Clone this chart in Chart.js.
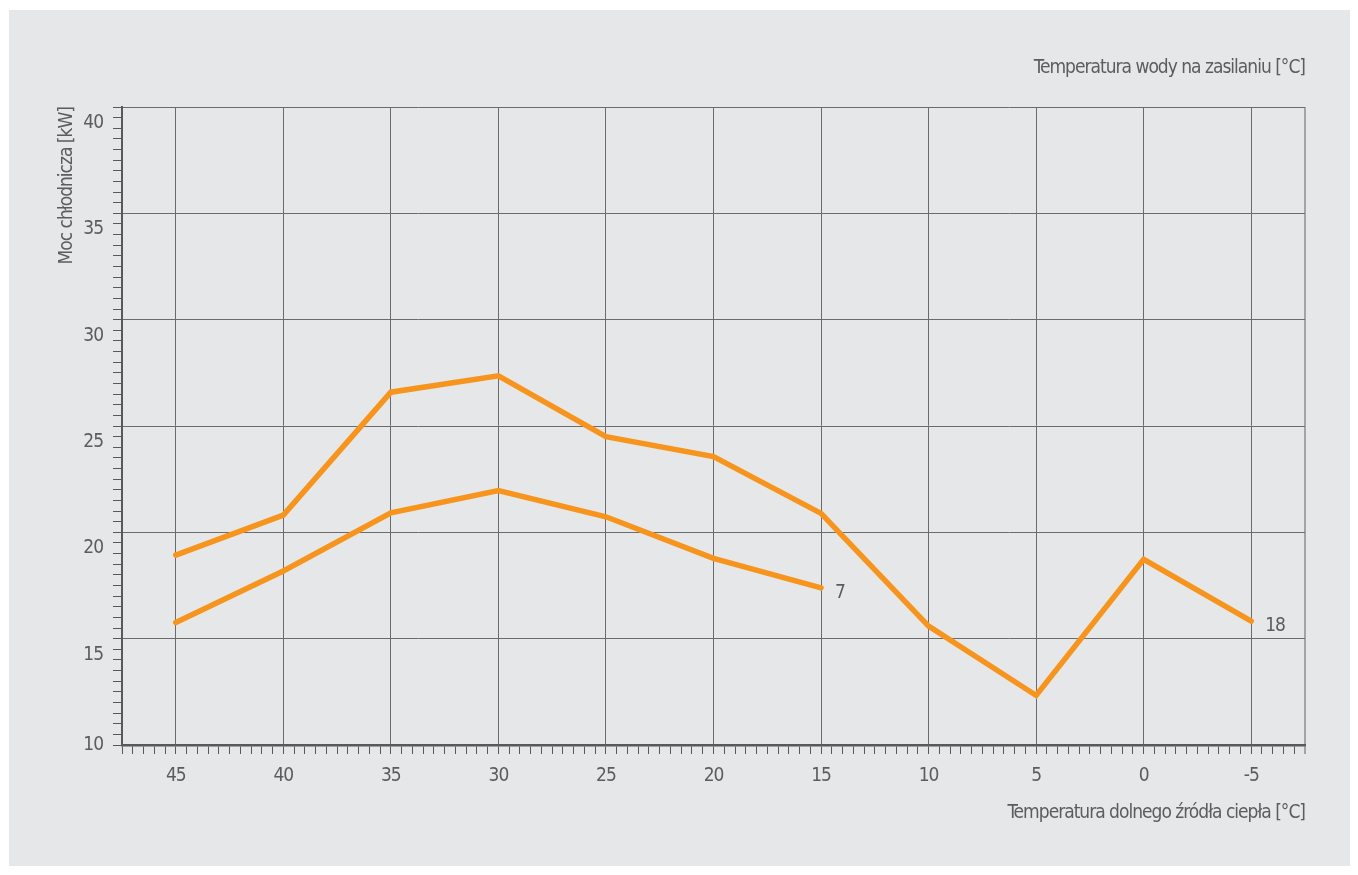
<!DOCTYPE html>
<html lang="pl">
<head>
<meta charset="utf-8">
<title>Moc chłodnicza</title>
<script src="https://cdn.jsdelivr.net/npm/chart.js@4.4.1/dist/chart.umd.min.js"></script>
<style>
  html, body { margin: 0; padding: 0; background: #ffffff; }
  #panel { position: absolute; left: 9px; top: 10px; width: 1341px; height: 856px; background: #e6e7e8; }
  canvas { display: block; }
</style>
</head>
<body>
<div id="panel"><canvas id="chart" width="1341" height="856"></canvas></div>
<script>
// Temperatura dolnego źródła ciepła [°C]
const sourceTemps = [45, 40, 35, 30, 25, 20, 15, 10, 5, 0, -5];
// Moc chłodnicza [kW] przy temperaturze zasilania 18 °C i 7 °C
const power18 = [18.93, 20.81, 26.59, 27.36, 24.5, 23.56, 20.89, 15.59, 12.33, 18.73, 15.83];
const power7 = [15.76, 18.18, 20.92, 21.96, 20.73, 18.78, 17.39];
const seriesNames = ['18', '7'];
// labelled values on both axes
const yTickLabels = [10, 15, 20, 25, 30, 35, 40];
const xTickLabels = [45, 40, 35, 30, 25, 20, 15, 10, 5, 0, -5];

const FONT = '"DejaVu Sans Condensed", "Liberation Sans Narrow", "Arial Narrow", sans-serif';
const FONT_SIZE = 19;
const TEXT = '#5b5c5e';
const GRID = '#6a6b6d';
const AXIS = '#58595b';
const EDGE = '#a3a4a6';
const ORANGE = '#f7941d';

Chart.defaults.font.family = FONT;
Chart.defaults.font.size = FONT_SIZE;
Chart.defaults.color = TEXT;

const toPoints = (vals) => vals.map((v, i) => ({ x: sourceTemps[i], y: v }));

// tighter letter spacing for all canvas text
const tightText = {
  id: 'tightText',
  beforeUpdate(chart) { chart.ctx.letterSpacing = '-1px'; },
  beforeDraw(chart) { chart.ctx.letterSpacing = '-1px'; }
};

// supply-temperature label next to the last point of each curve
const endLabels = {
  id: 'endLabels',
  afterDatasetsDraw(chart) {
    const ctx = chart.ctx;
    ctx.save();
    ctx.font = FONT_SIZE + 'px ' + FONT;
    ctx.fillStyle = TEXT;
    ctx.textAlign = 'left';
    ctx.textBaseline = 'middle';
    chart.data.datasets.forEach((ds, i) => {
      const pts = chart.getDatasetMeta(i).data;
      const last = pts[pts.length - 1];
      ctx.fillText(ds.label, last.x + 14, last.y + 5.5);
    });
    ctx.restore();
  }
};

const isMajor = (v) => Math.abs(v % 5) < 1e-9;

new Chart(document.getElementById('chart'), {
  type: 'line',
  data: {
    datasets: [
      { label: seriesNames[0], data: toPoints(power18) },
      { label: seriesNames[1], data: toPoints(power7) }
    ].map(ds => Object.assign(ds, {
      borderColor: ORANGE,
      borderWidth: 5.5,
      borderCapStyle: 'round',
      borderJoinStyle: 'miter',
      pointRadius: 0,
      tension: 0,
      fill: false
    }))
  },
  options: {
    responsive: false,
    animation: false,
    devicePixelRatio: 1,
    layout: { padding: { left: 0, right: 45, top: 0, bottom: 0 } },
    plugins: {
      legend: { display: false },
      tooltip: { enabled: false },
      title: {
        display: true,
        text: 'Temperatura wody na zasilaniu [°C]',
        align: 'end',
        color: TEXT,
        font: { size: FONT_SIZE, weight: 'normal', lineHeight: '24px' },
        padding: { top: 46, bottom: 27 }
      },
      subtitle: {
        display: true,
        position: 'bottom',
        text: 'Temperatura dolnego źródła ciepła [°C]',
        align: 'end',
        color: TEXT,
        font: { size: FONT_SIZE, weight: 'normal', lineHeight: '24px' },
        padding: { top: 0, bottom: 41 }
      }
    },
    scales: {
      x: {
        type: 'linear',
        min: -7.5,
        max: 47.5,
        reverse: true,
        afterFit(s) { s.height = 56; },
        border: { display: true, color: AXIS, width: 2.5 },
        grid: {
          color: (c) => {
            if (!c.tick) return 'transparent';
            if (c.tick.value === -7.5) return EDGE;
            return isMajor(c.tick.value) ? GRID : 'transparent';
          },
          lineWidth: (c) => (c.tick && c.tick.value === -7.5) ? 2 : 1,
          tickColor: (c) => (c.tick && c.tick.value === -7.5) ? EDGE : AXIS,
          tickWidth: (c) => (c.tick && c.tick.value === -7.5) ? 2 : 1,
          tickLength: 9,
          drawTicks: true
        },
        ticks: {
          stepSize: 0.5,
          autoSkip: false,
          maxRotation: 0,
          minRotation: 0,
          padding: 10,
          color: TEXT,
          font: { size: FONT_SIZE, lineHeight: '24px' },
          callback: (v) => xTickLabels.includes(v) ? String(v) : ''
        }
      },
      y: {
        type: 'linear',
        min: 10,
        max: 40,
        afterFit(s) { s.width = 113; },
        border: { display: true, color: AXIS, width: 2 },
        grid: {
          color: (c) => (c.tick && isMajor(c.tick.value)) ? GRID : 'transparent',
          lineWidth: 1,
          tickColor: AXIS,
          tickWidth: 1,
          tickLength: 9,
          drawTicks: true
        },
        ticks: {
          stepSize: 0.5,
          autoSkip: false,
          padding: 10,
          labelOffset: 16,
          color: TEXT,
          // the bottom label sits on the axis line itself
          font: (c) => (c.tick && c.tick.value === 10)
            ? { size: FONT_SIZE, lineHeight: '32px' }
            : { size: FONT_SIZE },
          callback: (v) => {
            if (!yTickLabels.includes(v)) return '';
            return v === 10 ? ['10', ''] : String(v);
          }
        },
        title: {
          display: true,
          text: 'Moc chłodnicza [kW]',
          align: 'end',
          color: TEXT,
          font: { size: FONT_SIZE, lineHeight: '24px' },
          padding: { top: 46, bottom: 0 }
        }
      }
    }
  },
  plugins: [tightText, endLabels]
});
</script>
</body>
</html>
